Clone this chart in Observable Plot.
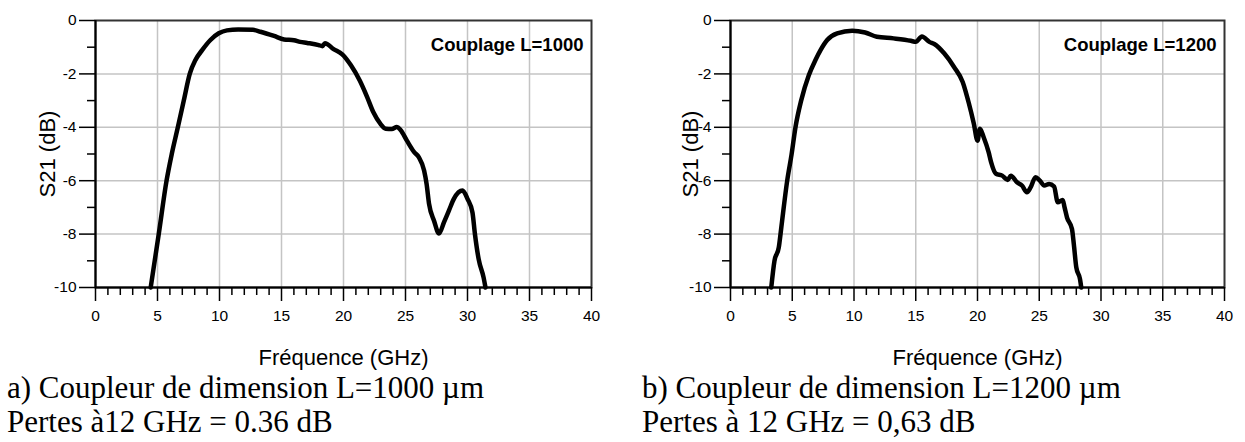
<!DOCTYPE html>
<html>
<head>
<meta charset="utf-8">
<script src="https://cdn.jsdelivr.net/npm/d3@7"></script>
<script src="https://cdn.jsdelivr.net/npm/@observablehq/plot@0.6"></script>
<style>
  html, body { margin: 0; padding: 0; background: white; }
  #wrap { display: flex; width: 1245px; height: 442px; overflow: hidden; }
  .panel { position: relative; }
  .cap { font-family: "Liberation Serif", "Times New Roman", serif; font-size: 31px; line-height: 34px; color: black; white-space: nowrap; margin-top: -2px; }
</style>
</head>
<body>
<div id="wrap">
  <div class="panel" id="pa" style="width:622px"></div>
  <div class="panel" id="pb" style="width:623px"></div>
</div>
<script>
// ---- data ----
const freqA = [4.45, 5.1, 5.73, 6.15, 6.64, 7.12, 7.6, 8.06, 8.6, 9.27, 9.94, 10.6, 11.5, 12.7, 13.3, 14.4, 15.2, 16.0, 16.5, 17.07, 18.0, 18.3, 18.5, 19.2, 19.9, 20.6, 21.3, 21.9, 22.4, 22.98, 23.4, 23.9, 24.3, 24.6, 25.1, 25.7, 26.07, 26.5, 26.7, 26.9, 27.3, 27.7, 28.1, 28.5, 28.9, 29.6, 30.0, 30.4, 30.6, 30.9, 31.3, 31.45];
const s21A  = [-10, -8, -6, -5, -4, -3, -2, -1.48, -1.11, -0.73, -0.48, -0.37, -0.34, -0.35, -0.42, -0.58, -0.71, -0.74, -0.8, -0.84, -0.92, -0.96, -0.85, -1.07, -1.27, -1.68, -2.24, -2.86, -3.43, -3.87, -4.05, -4.06, -3.99, -4.1, -4.49, -4.93, -5.12, -5.62, -6.12, -6.87, -7.5, -7.98, -7.56, -7.12, -6.68, -6.37, -6.68, -7.19, -8.0, -8.94, -9.63, -10];

const freqB = [3.3, 3.56, 3.91, 4.05, 4.18, 4.59, 4.95, 5.26, 5.72, 6.34, 6.88, 7.29, 7.83, 8.64, 9.85, 10.9, 11.85, 13.2, 14.6, 15.0, 15.5, 16.1, 16.5, 17.3, 18.1, 18.8, 19.3, 19.7, 20.0, 20.2, 20.5, 20.9, 21.1, 21.5, 22.0, 22.45, 22.7, 23.2, 23.6, 24.0, 24.3, 24.7, 25.05, 25.4, 25.8, 26.2, 26.5, 26.9, 27.05, 27.25, 27.65, 27.8, 28.0, 28.3, 28.4];
const s21B  = [-10, -9, -8.5, -8, -7.5, -6, -5, -4, -3, -2.05, -1.48, -1.11, -0.73, -0.48, -0.38, -0.45, -0.61, -0.67, -0.76, -0.8, -0.6, -0.8, -0.88, -1.23, -1.74, -2.3, -3.1, -3.86, -4.5, -4.05, -4.37, -4.93, -5.3, -5.74, -5.81, -5.97, -5.81, -6.06, -6.18, -6.43, -6.25, -5.87, -6.0, -6.18, -6.12, -6.22, -6.81, -6.72, -7.0, -7.38, -7.81, -8.38, -9.25, -9.69, -10];

const xMajor = [0, 5, 10, 15, 20, 25, 30, 35, 40];
const xMinor = d3.range(0, 41, 1).filter(d => d % 5 !== 0);
const yMajor = [0, -2, -4, -6, -8, -10];
const yMinor = [-1, -3, -5, -7, -9];
const xGrid = [5, 10, 15, 20, 25, 30, 35];
const yGrid = [-2, -4, -6, -8];

const xLabel = "Fréquence (GHz)";
const yLabel = "S21 (dB)";
const notes = ["Couplage L=1000", "Couplage L=1200"];
const captionsA = ["a) Coupleur de dimension L=1000 µm", "Pertes à12 GHz = 0.36 dB"];
const captionsB = ["b) Coupleur de dimension L=1200 µm", "Pertes à 12 GHz = 0,63 dB"];

function chart(freq, s21, note, o) {
  const data = freq.map((f, i) => ({f, s: s21[i]}));
  return Plot.plot({
    width: o.width, height: 373,
    marginLeft: o.ml, marginRight: o.mr, marginTop: 20, marginBottom: 86,
    style: {fontFamily: "'Liberation Sans', Arial, sans-serif", fontSize: "15.5px", color: "black", background: "white", overflow: "visible"},
    x: {domain: [0, 40]},
    y: {domain: [-10, 0]},
    marks: [
      Plot.ruleX(xGrid, {stroke: "#c4c4c4", strokeWidth: 1.5}),
      Plot.ruleY(yGrid, {stroke: "#c4c4c4", strokeWidth: 1.5}),
      Plot.frame({stroke: "#333", strokeWidth: 2}),
      Plot.axisX(xMinor, {tickSize: 8, tickFormat: () => "", label: null, strokeWidth: 1.5, strokeOpacity: 1}),
      Plot.axisX(xMajor, {tickSize: 14, tickPadding: 8, tickFormat: d => String(d), label: null, strokeWidth: 1.5, strokeOpacity: 1}),
      Plot.axisY(yMinor, {tickSize: 8, tickFormat: () => "", label: null, strokeWidth: 1.5, strokeOpacity: 1}),
      Plot.axisY(yMajor, {tickSize: 16, tickPadding: 3, tickFormat: d => String(d), label: null, strokeWidth: 1.5, strokeOpacity: 1}),
      Plot.ruleX([0], {stroke: "black", strokeWidth: 2}),
      Plot.ruleY([-10], {stroke: "black", strokeWidth: 2}),
      Plot.line(data, {x: "f", y: "s", stroke: "black", strokeWidth: 4.5, curve: "monotone-x", strokeLinejoin: "round", strokeLinecap: "round"}),
      Plot.text([note], {frameAnchor: "top-right", dx: -8, dy: 17, fontWeight: "bold", fontSize: 18.5}),
      Plot.text([xLabel], {frameAnchor: "bottom", dy: 70, lineAnchor: "middle", textAnchor: "middle", fontSize: 22}),
      Plot.text([yLabel], {frameAnchor: "left", dx: o.ylx, rotate: -90, textAnchor: "middle", lineAnchor: "middle", fontSize: 22})
    ]
  });
}

function caption(lines, pad) {
  const d = document.createElement("div");
  d.className = "cap";
  d.style.paddingLeft = pad + "px";
  lines.forEach(t => { const l = document.createElement("div"); l.textContent = t; d.appendChild(l); });
  return d;
}

const pa = document.getElementById("pa");
pa.appendChild(chart(freqA, s21A, notes[0], {width: 622, ml: 95, mr: 31, ylx: -48}));
pa.appendChild(caption(captionsA, 7));
const pb = document.getElementById("pb");
pb.appendChild(chart(freqB, s21B, notes[1], {width: 623, ml: 108, mr: 21, ylx: -40}));
pb.appendChild(caption(captionsB, 20));
</script>
</body>
</html>
